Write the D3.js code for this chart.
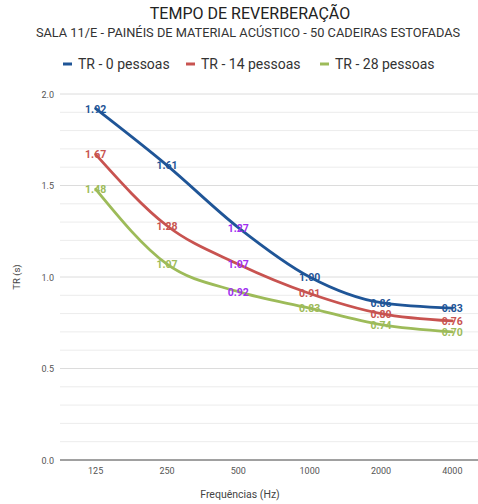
<!DOCTYPE html>
<html><head><meta charset="utf-8">
<script src="https://cdn.jsdelivr.net/npm/d3@7"></script>
<style>body{margin:0;background:#fff;font-family:Roboto,"Noto Sans",Arial,sans-serif}</style>
</head><body><svg id="c" width="478" height="504"></svg>
<script>
const categories = ["125","250","500","1000","2000","4000"];
const seriesNames = ["TR - 0 pessoas","TR - 14 pessoas","TR - 28 pessoas"];
const tr0 = [1.92,1.61,1.27,1.00,0.86,0.83];
const tr14 = [1.67,1.28,1.07,0.91,0.80,0.76];
const tr28 = [1.48,1.07,0.92,0.83,0.74,0.70];
const yTicks = [0,0.5,1.0,1.5,2.0];
const colors = ["#1f5597","#c85350","#9dbb59"];
const highlight = "#a030f0";

const svg = d3.select("#c");
const x = d3.scaleBand().domain(categories).range([60,488]);
const y = d3.scaleLinear().domain([0,2]).range([460,94]);

// grid
const minor = d3.range(0,2.001,0.1);
svg.append("g").selectAll("line").data(minor).join("line")
  .attr("x1",60).attr("x2",478).attr("y1",d=>y(d)).attr("y2",d=>y(d))
  .attr("stroke",d=>Math.abs(d*2-Math.round(d*2))<1e-6?"#dcdcdc":"#ececec").attr("stroke-width",1);
svg.append("line").attr("x1",60).attr("x2",478).attr("y1",y(0)).attr("y2",y(0)).attr("stroke","#555").attr("stroke-width",1.2);

// y tick labels
svg.append("g").selectAll("text").data(yTicks).join("text")
  .attr("x",54).attr("y",d=>y(d)+3.5).attr("text-anchor","end")
  .attr("font-size",9).attr("fill","#555").text(d=>d.toFixed(1));
// x tick labels
svg.append("g").selectAll("text").data(categories).join("text")
  .attr("x",d=>x(d)+x.bandwidth()/2).attr("y",474).attr("text-anchor","middle")
  .attr("font-size",9).attr("fill","#555").text(d=>d);

// titles
svg.append("text").attr("x",250).attr("y",19).attr("text-anchor","middle").attr("font-size",16).attr("fill","#222").text("TEMPO DE REVERBERAÇÃO");
svg.append("text").attr("x",248).attr("y",37).attr("text-anchor","middle").attr("font-size",12.8).attr("fill","#333").text("SALA 11/E - PAINÉIS DE MATERIAL ACÚSTICO - 50 CADEIRAS ESTOFADAS");
svg.append("text").attr("x",240).attr("y",498).attr("text-anchor","middle").attr("font-size",10.5).attr("fill","#444").text("Frequências (Hz)");
svg.append("text").attr("transform","translate(20,277) rotate(-90)").attr("text-anchor","middle").attr("font-size",9.5).attr("fill","#444").text("TR (s)");

// legend
const legX = [63,186,320];
seriesNames.forEach((n,i)=>{
  const g = svg.append("g").attr("transform",`translate(${legX[i]},64)`);
  g.append("line").attr("x1",0).attr("x2",9).attr("y1",0).attr("y2",0).attr("stroke",colors[i]).attr("stroke-width",3);
  g.append("text").attr("x",15).attr("y",5).attr("font-size",14).attr("fill","#333").text(n);
});

const series = [tr0,tr14,tr28];
const line = d3.line().x((d,i)=>x(categories[i])+x.bandwidth()/2).y(d=>y(d)).curve(d3.curveMonotoneX);
series.forEach((s,i)=>{
  svg.append("path").attr("d",line(s)).attr("fill","none").attr("stroke",colors[i]).attr("stroke-width",2.8).attr("stroke-linecap","round");
});
series.forEach((s,i)=>{
  svg.append("g").selectAll("text").data(s).join("text")
    .attr("x",(d,j)=>x(categories[j])+x.bandwidth()/2).attr("y",d=>y(d)+4)
    .attr("text-anchor","middle").attr("font-size",10.5).attr("font-weight","bold")
    .attr("fill",(d,j)=>(j===2?highlight:colors[i]))
    .text(d=>d.toFixed(2));
});
</script></body></html>
